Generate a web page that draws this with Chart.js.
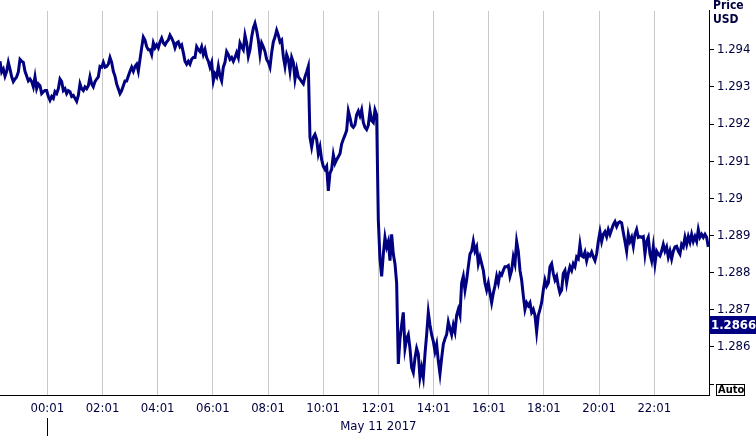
<!DOCTYPE html>
<html>
<head>
<meta charset="utf-8">
<script src="https://cdn.jsdelivr.net/npm/chart.js@4/dist/chart.umd.min.js"></script>
<style>
  html, body { margin: 0; padding: 0; background: #ffffff; }
  #wrap { width: 756px; height: 436px; }
</style>
</head>
<body>
<div id="wrap"><canvas id="c" width="756" height="436"></canvas></div>
<script>
// ---- data (GBP/USD intraday, May 11 2017) ----
const sampleStartMinute = -101.9;   // first sample, minutes from 00:00 May 11
const sampleStepMinutes = 3.6244;   // sampling interval of the series
const prices = [
  1.29369,1.29340,1.29348,1.29329,1.29342,1.29366,1.29348,1.29327,1.29314,1.29321,
  1.29327,1.29340,1.29374,1.29369,1.29366,1.29342,1.29329,1.29316,1.29321,1.29314,
  1.29300,1.29327,1.29295,1.29308,1.29303,1.29282,1.29287,1.29290,1.29290,1.29274,
  1.29264,1.29274,1.29269,1.29287,1.29282,1.29295,1.29321,1.29314,1.29290,1.29295,
  1.29282,1.29290,1.29287,1.29274,1.29277,1.29269,1.29261,1.29277,1.29308,1.29295,
  1.29290,1.29300,1.29295,1.29303,1.29327,1.29308,1.29300,1.29314,1.29321,1.29327,
  1.29355,1.29353,1.29366,1.29353,1.29355,1.29361,1.29379,1.29366,1.29342,1.29329,
  1.29308,1.29295,1.29282,1.29290,1.29303,1.29316,1.29316,1.29329,1.29342,1.29353,
  1.29342,1.29355,1.29361,1.29342,1.29374,1.29405,1.29434,1.29426,1.29408,1.29400,
  1.29400,1.29387,1.29418,1.29405,1.29413,1.29405,1.29421,1.29431,1.29418,1.29413,
  1.29421,1.29426,1.29439,1.29431,1.29421,1.29405,1.29418,1.29421,1.29408,1.29413,
  1.29392,1.29369,1.29361,1.29369,1.29361,1.29374,1.29379,1.29379,1.29408,1.29400,
  1.29395,1.29408,1.29387,1.29400,1.29379,1.29369,1.29353,1.29366,1.29316,1.29335,
  1.29327,1.29355,1.29329,1.29316,1.29353,1.29366,1.29395,1.29387,1.29374,1.29379,
  1.29369,1.29379,1.29392,1.29379,1.29418,1.29408,1.29400,1.29439,1.29418,1.29382,
  1.29400,1.29434,1.29458,1.29471,1.29452,1.29426,1.29387,1.29418,1.29408,1.29395,
  1.29374,1.29366,1.29353,1.29392,1.29421,1.29434,1.29452,1.29439,1.29421,1.29426,
  1.29382,1.29355,1.29387,1.29374,1.29342,1.29379,1.29366,1.29321,1.29348,1.29327,
  1.29321,1.29314,1.29308,1.29327,1.29340,1.29355,1.29164,1.29138,1.29164,1.29172,
  1.29159,1.29120,1.29138,1.29104,1.29086,1.29078,1.29086,1.29020,1.29068,1.29078,
  1.29117,1.29094,1.29104,1.29112,1.29120,1.29146,1.29159,1.29170,1.29183,1.29235,
  1.29217,1.29196,1.29191,1.29198,1.29225,1.29235,1.29222,1.29238,1.29204,1.29191,
  1.29185,1.29196,1.29235,1.29209,1.29204,1.29238,1.29225,1.28942,1.28837,1.28790,
  1.28850,1.28895,1.28869,1.28884,1.28832,1.28903,1.28850,1.28824,1.28772,1.28554,
  1.28622,1.28659,1.28693,1.28596,1.28622,1.28633,1.28596,1.28544,1.28531,1.28570,
  1.28596,1.28581,1.28518,1.28544,1.28518,1.28581,1.28633,1.28693,1.28659,1.28633,
  1.28615,1.28588,1.28607,1.28562,1.28528,1.28570,1.28607,1.28622,1.28633,1.28667,
  1.28649,1.28633,1.28659,1.28641,1.28685,1.28701,1.28685,1.28772,1.28790,1.28753,
  1.28780,1.28816,1.28850,1.28858,1.28884,1.28858,1.28869,1.28824,1.28842,1.28824,
  1.28806,1.28772,1.28753,1.28772,1.28745,1.28719,1.28745,1.28764,1.28790,1.28772,
  1.28798,1.28793,1.28806,1.28816,1.28816,1.28819,1.28790,1.28806,1.28842,1.28824,
  1.28884,1.28858,1.28806,1.28780,1.28738,1.28701,1.28719,1.28711,1.28719,1.28693,
  1.28701,1.28685,1.28641,1.28685,1.28701,1.28719,1.28753,1.28780,1.28764,1.28772,
  1.28816,1.28824,1.28798,1.28780,1.28790,1.28764,1.28745,1.28753,1.28798,1.28806,
  1.28772,1.28798,1.28816,1.28806,1.28824,1.28816,1.28842,1.28837,1.28876,1.28845,
  1.28842,1.28855,1.28832,1.28850,1.28845,1.28855,1.28842,1.28832,1.28850,1.28884,
  1.28910,1.28884,1.28903,1.28910,1.28897,1.28916,1.28903,1.28916,1.28929,1.28937,
  1.28924,1.28934,1.28937,1.28934,1.28908,1.28884,1.28858,1.28903,1.28884,1.28895,
  1.28871,1.28903,1.28916,1.28895,1.28897,1.28895,1.28897,1.28850,1.28884,1.28895,
  1.28850,1.28832,1.28869,1.28824,1.28858,1.28850,1.28845,1.28858,1.28876,1.28858,
  1.28869,1.28842,1.28858,1.28837,1.28858,1.28869,1.28871,1.28858,1.28850,1.28876,
  1.28869,1.28895,1.28876,1.28897,1.28882,1.28903,1.28884,1.28897,1.28884,1.28916,
  1.28895,1.28903,1.28895,1.28903,1.28895,1.28869
];
const xTickMinutes = [1,121,241,361,481,601,721,841,961,1081,1201,1321];
const xTickLabels  = ['00:01','02:01','04:01','06:01','08:01','10:01','12:01','14:01','16:01','18:01','20:01','22:01'];
const yTickValues  = [1.285,1.286,1.287,1.288,1.289,1.290,1.291,1.292,1.293,1.294];
const yTickLabels  = ['','1.286','1.287','1.288','1.289','1.29','1.291','1.292','1.293','1.294'];
const dateLabel = 'May 11 2017';
const dateLabelMinute = 721;
const lastPriceLabel = 1.2866;
const axisTitleLines = ['Price', 'USD'];
const xRange = [-101.9, 1440];
const yRange = [1.284706, 1.295047];

const FONT = "'DejaVu Sans Condensed', 'DejaVu Sans', sans-serif";
const TEXT = '#000040';
const NAVY = '#000080';

const points = prices.map((p, i) => ({ x: sampleStartMinute + i * sampleStepMinutes, y: p }));

const extras = {
  id: 'extras',
  afterDraw(chart) {
    const ctx = chart.ctx;
    const xs = chart.scales.x, ys = chart.scales.y;
    const axisX = chart.chartArea.right;
    ctx.save();
    // axis title
    ctx.fillStyle = TEXT;
    ctx.font = "bold 12px " + FONT;
    ctx.textBaseline = 'middle';
    ctx.textAlign = 'left';
    ctx.fillText(axisTitleLines[0], axisX + 4, 6);
    ctx.fillText(axisTitleLines[1], axisX + 4, 20);
    // last price box
    const py = ys.getPixelForValue(lastPriceLabel);
    ctx.fillStyle = NAVY;
    ctx.fillRect(axisX, Math.round(py) - 9, 756 - axisX, 18);
    ctx.fillStyle = '#ffffff';
    ctx.font = "bold 13px " + FONT;
    ctx.fillText(lastPriceLabel.toFixed(4), axisX + 2, Math.round(py) + 0.5);
    // Auto box
    const ay = ys.getPixelForValue(yTickValues[0]);
    ctx.strokeStyle = '#000000';
    ctx.lineWidth = 1;
    ctx.strokeRect(axisX + 7.5, Math.round(ay) + 0.5, 28, 11);
    ctx.fillStyle = '#000000';
    ctx.font = "bold 11px " + FONT;
    ctx.fillText('Auto', axisX + 9, Math.round(ay) + 6.5);
    // date label
    ctx.fillStyle = TEXT;
    ctx.font = "13px " + FONT;
    ctx.textAlign = 'center';
    ctx.fillText(dateLabel, xs.getPixelForValue(dateLabelMinute), 427);
    // day marker
    const dx = Math.round(xs.getPixelForValue(xTickMinutes[0])) + 0.5;
    ctx.beginPath();
    ctx.moveTo(dx, 418);
    ctx.lineTo(dx, 436);
    ctx.strokeStyle = '#000000';
    ctx.stroke();
    ctx.restore();
  }
};

new Chart(document.getElementById('c'), {
  type: 'line',
  data: {
    datasets: [{
      data: points,
      borderColor: NAVY,
      borderWidth: 3,
      pointRadius: 0,
      tension: 0,
      fill: false,
      borderJoinStyle: 'miter'
    }]
  },
  options: {
    responsive: false,
    animation: false,
    devicePixelRatio: 1,
    layout: { padding: 0 },
    plugins: { legend: { display: false }, tooltip: { enabled: false } },
    scales: {
      x: {
        type: 'linear',
        min: xRange[0],
        max: xRange[1],
        afterBuildTicks(scale) { scale.ticks = xTickMinutes.map(v => ({ value: v })); },
        afterFit(scale) { scale.height = 41; },
        ticks: {
          autoSkip: false, maxRotation: 0, padding: 6,
          color: TEXT, font: { family: FONT, size: 13 },
          callback: (v, i) => xTickLabels[i]
        },
        grid: { color: '#c8c8c8', lineWidth: 1, drawTicks: false },
        border: { display: true, color: '#000000', width: 1 }
      },
      y: {
        position: 'right',
        min: yRange[0],
        max: yRange[1],
        afterBuildTicks(scale) { scale.ticks = yTickValues.map(v => ({ value: v })); },
        afterFit(scale) { scale.width = 47; },
        ticks: {
          autoSkip: false, padding: 3,
          color: TEXT, font: { family: FONT, size: 13 },
          callback: (v, i) => yTickLabels[i]
        },
        grid: { drawOnChartArea: false, drawTicks: true, tickLength: 5, color: '#000000' },
        border: { display: true, color: '#000000', width: 1 }
      }
    }
  },
  plugins: [extras]
});
</script>
</body>
</html>
